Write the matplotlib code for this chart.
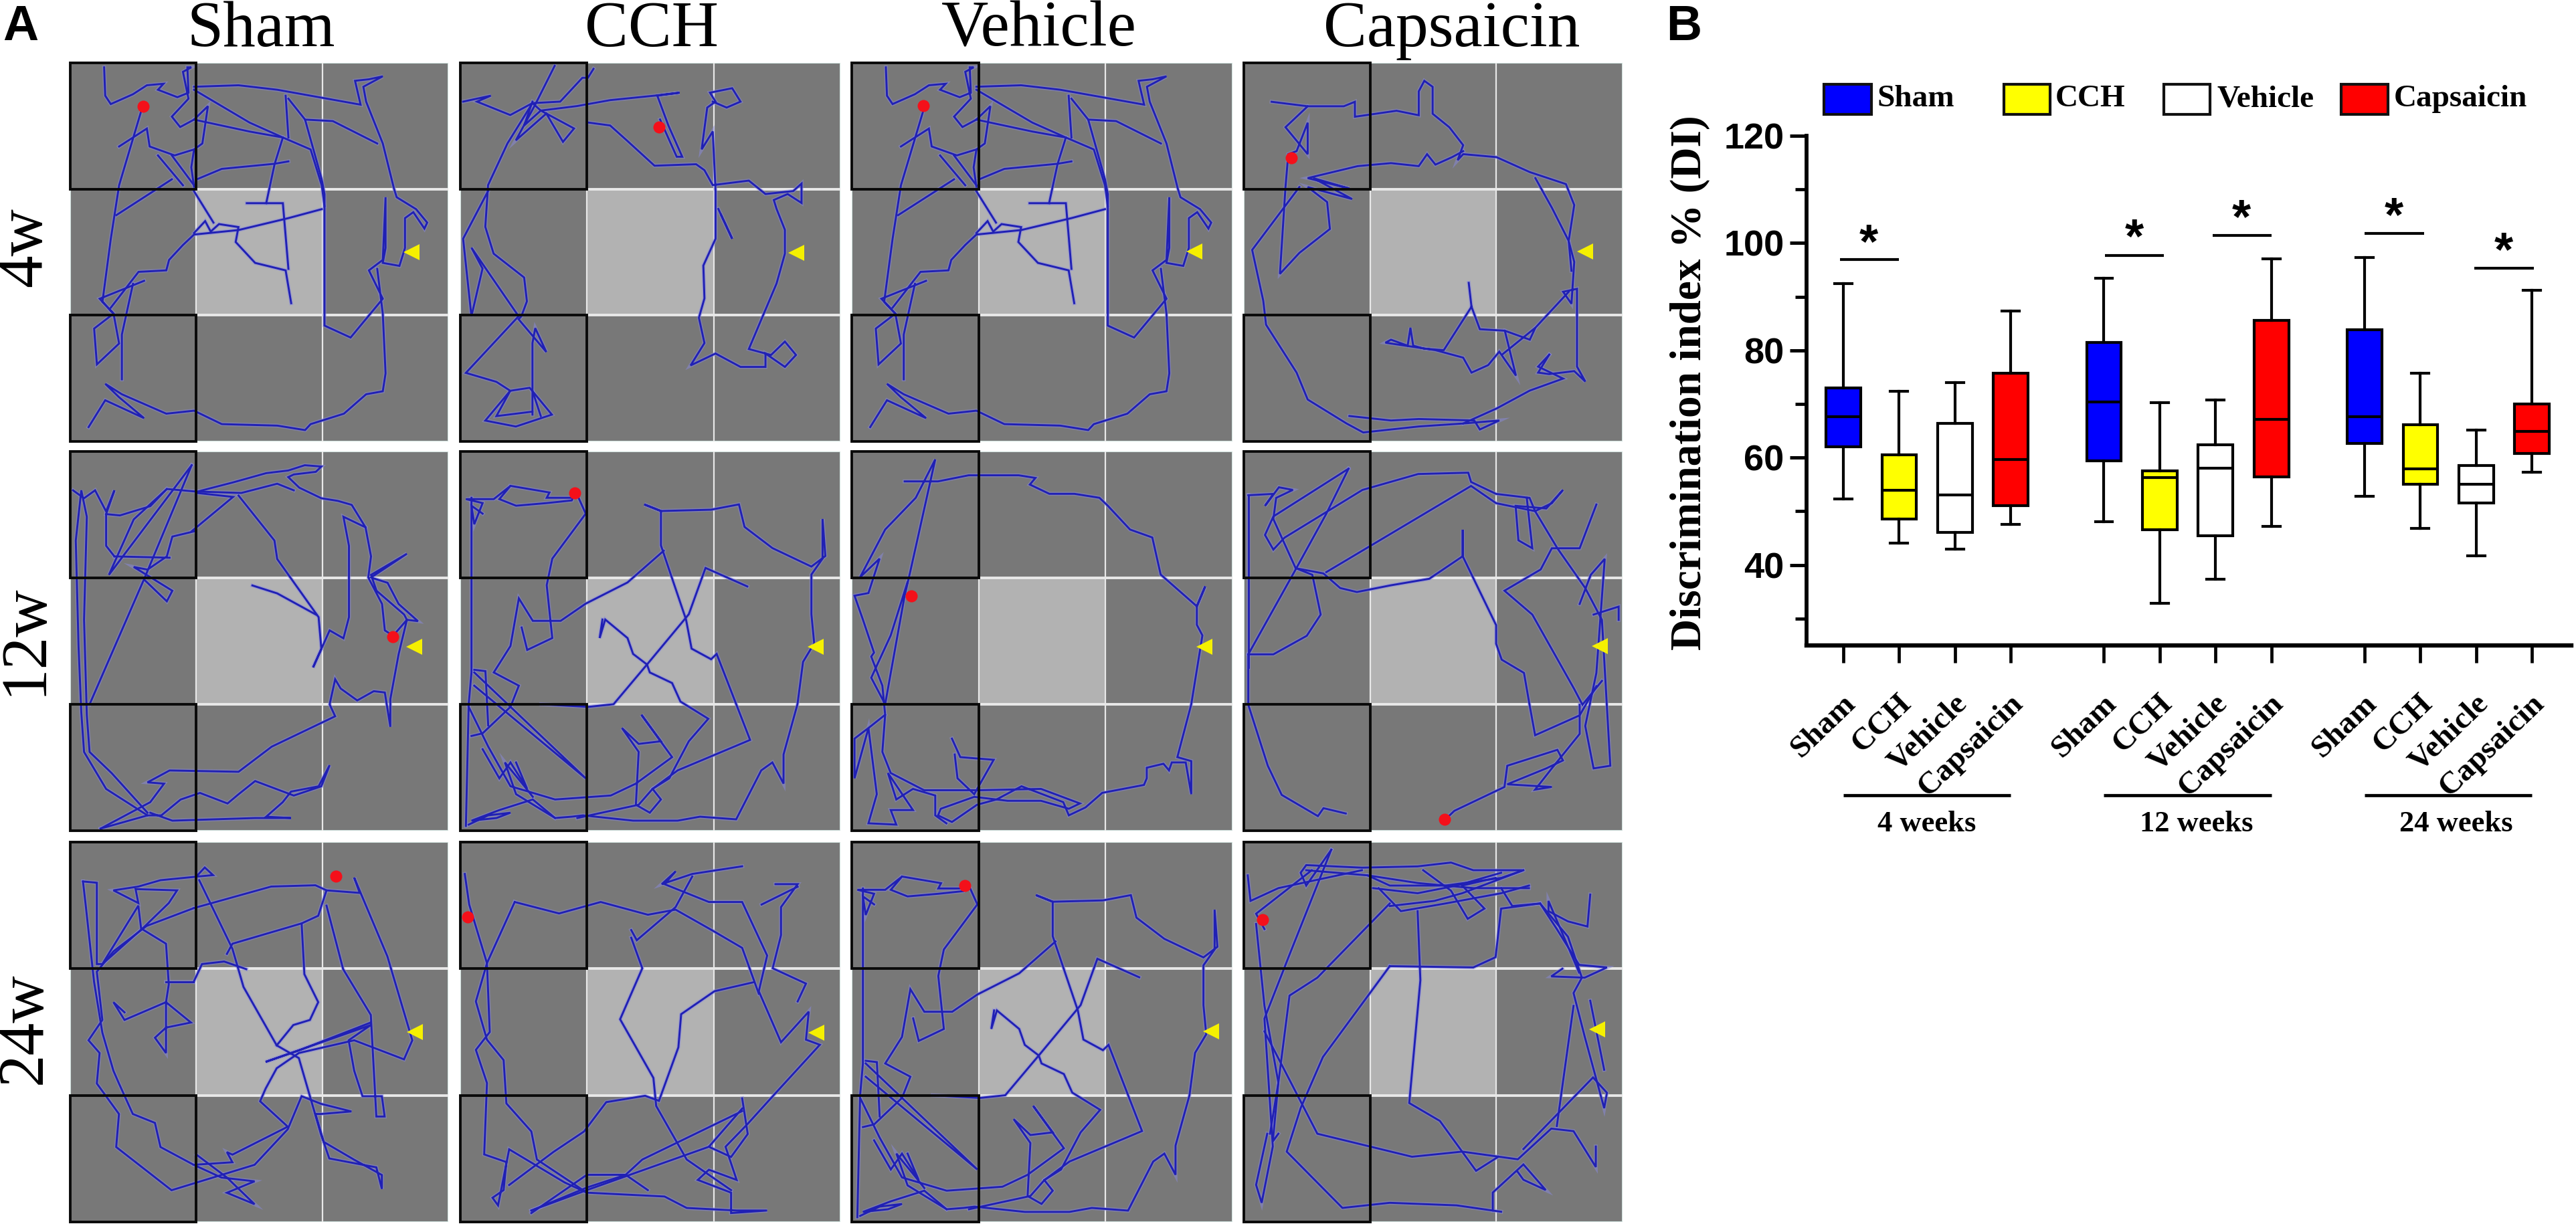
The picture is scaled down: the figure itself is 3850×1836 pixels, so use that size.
"""Novel-object track grid (A) and discrimination index boxplots (B)."""
import matplotlib

matplotlib.use("Agg")
import matplotlib.pyplot as plt
from matplotlib.patches import Rectangle
from matplotlib.transforms import ScaledTranslation

W, H = 3850, 1836

groups = ["Sham", "CCH", "Vehicle", "Capsaicin"]
weeks = ["4w", "12w", "24w"]
week_groups = ["4 weeks", "12 weeks", "24 weeks"]

# ---- panel B, box statistics (whislo, q1, med, q3, whishi) ----
box_sham = [(52.3, 62.0, 67.6, 73.0, 92.4), (48.1, 59.4, 70.4, 81.5, 93.5), (52.8, 62.6, 67.6, 83.9, 97.3)]
box_cch = [(44.1, 48.6, 53.9, 60.5, 72.4), (32.8, 46.6, 56.3, 57.5, 70.2), (46.8, 55.1, 57.9, 66.2, 75.7)]
box_vehicle = [(42.9, 46.1, 53.0, 66.4, 74.0), (37.3, 45.4, 58.0, 62.4, 70.8), (41.7, 51.5, 55.1, 58.5, 65.2)]
box_capsaicin = [(47.6, 51.0, 59.6, 75.8, 87.3), (47.2, 56.4, 67.2, 85.6, 97.1), (57.3, 60.8, 64.9, 70.0, 91.2)]
box_colors = ["#0000ff", "#ffff00", "#ffffff", "#ff0000"]

group_offsets = [0.0, 4.67, 9.34]
sig_x0 = [-0.06, 4.69, 6.62, 9.34, 11.31]
sig_x1 = [1.00, 5.74, 7.67, 10.41, 12.37]
sig_y = [96.9, 97.7, 101.4, 101.8, 95.3]
star_x = [0.46, 5.22, 7.13, 9.87, 11.83]
star_y = [101.8, 102.8, 106.4, 106.8, 100.3]
week_label_x = [1.49, 6.33, 10.98]

sham_4w = [
    [(188, 225), (190, 320), (200, 348), (240, 315), (265, 285), (295, 280), (285, 300), (320, 325), (340, 310),
     (338, 225), (345, 225), (330, 240), (340, 330), (310, 390), (325, 425), (350, 400), (375, 355), (365, 480),
     (350, 500), (345, 560), (350, 625)],
    [(350, 290), (430, 285), (500, 300), (560, 320), (650, 350), (640, 270), (665, 265), (690, 255), (655, 290),
     (660, 340), (690, 480), (710, 630), (715, 660), (750, 700), (770, 745), (765, 765), (745, 710), (730, 730),
     (730, 830), (720, 890), (690, 880), (695, 830), (695, 660), (690, 870), (665, 905), (690, 1000), (632, 1130),
     (585, 1090), (585, 650), (580, 600), (550, 400), (520, 330)],
    [(680, 900), (690, 1050), (695, 1250), (690, 1310), (660, 1320), (620, 1385), (560, 1420), (550, 1440),
     (500, 1425), (400, 1420), (350, 1375), (300, 1385), (220, 1320), (190, 1285), (215, 1330), (260, 1400),
     (190, 1340), (160, 1430)],
    [(240, 950), (220, 1120), (220, 1270)],
    [(255, 370), (215, 620), (200, 800), (185, 1010), (205, 1050), (170, 1100), (175, 1220), (215, 1150), (205, 1050),
     (180, 1000), (260, 940)],
    [(200, 1030), (250, 910), (300, 905), (305, 870), (330, 820), (350, 785), (430, 770), (520, 730), (580, 700)],
    [(350, 780), (370, 740), (380, 775), (395, 750), (430, 760), (425, 810), (460, 880), (515, 905), (525, 1015)],
    [(445, 680), (510, 680), (520, 900)],
    [(480, 680), (495, 550), (510, 460)],
    [(355, 600), (400, 565), (495, 548), (520, 540)],
    [(350, 640), (385, 745)],
    [(350, 300), (450, 410), (510, 460)],
    [(350, 400), (450, 440), (510, 460), (560, 500), (580, 620), (585, 690)],
    [(515, 320), (520, 460)],
    [(550, 400), (600, 405), (680, 480)],
    [(215, 490), (265, 430), (270, 490), (315, 520), (350, 500)],
    [(285, 520), (330, 620)],
    [(310, 520), (350, 620)],
    [(210, 720), (310, 600)],
]
cch_4w = [
    [(1000, 220), (965, 350), (930, 470), (985, 380), (1015, 475), (1035, 430), (975, 370), (945, 420), (960, 340)],
    [(1070, 230), (1060, 260), (1050, 260), (1010, 340), (960, 345)],
    [(835, 340), (885, 320), (860, 340), (920, 385), (960, 345), (975, 370), (1040, 355), (1100, 335), (1180, 320),
     (1225, 310), (1185, 320), (1205, 420), (1230, 525), (1220, 525), (1190, 400)],
    [(1060, 410), (1100, 420), (1130, 470), (1180, 555), (1255, 550), (1270, 570), (1285, 620), (1350, 605),
     (1380, 650), (1430, 640), (1445, 615), (1445, 680), (1420, 650), (1395, 670), (1400, 700), (1415, 770),
     (1415, 850), (1400, 950), (1350, 1170), (1390, 1190), (1415, 1145), (1435, 1190), (1415, 1230), (1380, 1185),
     (1380, 1230), (1335, 1230), (1290, 1185), (1245, 1225), (1270, 1150), (1260, 1065), (1270, 1000), (1268, 890),
     (1290, 800), (1290, 640), (1285, 440), (1265, 500), (1275, 360), (1290, 340), (1280, 310), (1320, 295),
     (1335, 340), (1310, 360), (1285, 340)],
    [(1295, 700), (1320, 800), (1300, 720)],
    [(960, 345), (915, 480), (880, 620), (875, 760), (890, 850), (945, 930), (950, 1010), (940, 1060), (935, 1070),
     (985, 1180), (965, 1100), (960, 1150), (960, 1390)],
    [(880, 640), (835, 800), (850, 1060), (870, 900), (850, 830), (935, 1060), (860, 1210), (840, 1250), (895, 1280),
     (920, 1310), (955, 1300), (995, 1390), (930, 1430), (875, 1410), (920, 1310), (895, 1395), (960, 1380)],
    [(960, 1310), (975, 1395)],
]
capsaicin_4w = [
    [(785, 335), (850, 350), (915, 350), (935, 335), (935, 385), (1010, 365), (1050, 380), (1050, 300), (1060, 265),
     (1075, 285), (1075, 375), (1105, 420), (1130, 480), (1120, 530), (1130, 510), (1190, 520), (1250, 570),
     (1315, 610), (1330, 680), (1320, 800), (1330, 870), (1325, 1010), (1310, 970), (1335, 960), (1335, 1220),
     (1350, 1270), (1330, 1235), (1285, 1245), (1265, 1240), (1285, 1180)],
    [(850, 350), (810, 420), (850, 510), (850, 405), (830, 500), (815, 510), (810, 620), (800, 910), (835, 840),
     (890, 760), (885, 670), (850, 620), (930, 660), (860, 590), (925, 625), (850, 590), (940, 550), (1000, 540),
     (1050, 550), (1065, 510), (1080, 545), (1110, 520), (1130, 500)],
    [(835, 620), (750, 830), (770, 1000), (775, 1080), (830, 1240), (850, 1330), (920, 1410), (950, 1440), (1050, 1420),
     (1130, 1410), (1195, 1400), (1160, 1430), (1150, 1400), (1050, 1395), (1000, 1400), (925, 1385)],
    [(1130, 1410), (1190, 1360), (1250, 1300), (1310, 1260), (1265, 1220), (1285, 1180)],
    [(1140, 940), (1145, 1020), (1095, 1165), (1060, 1160), (1040, 1150), (1035, 1090), (1030, 1150), (1000, 1130),
     (990, 1140), (1080, 1165), (1130, 1190), (1145, 1240), (1175, 1215), (1195, 1170), (1225, 1250), (1205, 1100),
     (1160, 1095), (1145, 1020)],
    [(1205, 1100), (1250, 1130), (1260, 1090), (1200, 1180)],
    [(1260, 1090), (1320, 970)],
    [(1260, 590), (1290, 690), (1320, 800), (1325, 900)],
]
sham_12w = [
    [(130, 210), (150, 240), (170, 210), (190, 290), (205, 210), (190, 300), (215, 305), (270, 270), (300, 205),
     (355, 215), (420, 180), (480, 145), (520, 135), (550, 115), (580, 120), (570, 140), (530, 150), (520, 160),
     (540, 200), (580, 240), (610, 250), (635, 265), (660, 350), (670, 460), (665, 540), (690, 640), (695, 740),
     (710, 760), (735, 700), (755, 705), (720, 640), (700, 560), (670, 540), (735, 450), (670, 530), (680, 590),
     (730, 680), (735, 700), (720, 830), (705, 1000), (705, 1105), (695, 975), (675, 970), (645, 1005), (615, 960),
     (605, 925), (595, 1020), (605, 1065), (490, 1180), (430, 1275), (305, 1270), (265, 1315), (295, 1320),
     (270, 1390), (180, 1490)],
    [(270, 1430), (310, 1460), (460, 1450), (525, 1450), (480, 1445), (510, 1390), (525, 1350), (575, 1330), (595, 1250),
     (580, 1330), (530, 1365), (460, 1310), (430, 1360), (410, 1395), (360, 1355), (325, 1380), (290, 1440),
     (265, 1440), (180, 1490)],
    [(265, 1440), (190, 1340), (150, 1200), (145, 1050), (140, 800), (135, 400), (145, 210), (155, 310), (150, 700),
     (155, 1060), (160, 1200), (200, 1280), (265, 1430)],
    [(345, 115), (260, 540), (160, 1020)],
    [(345, 115), (195, 530), (240, 320), (300, 205)],
    [(350, 365), (310, 385), (300, 460), (265, 510), (240, 500), (310, 590), (300, 630), (260, 550)],
    [(205, 460), (305, 465)],
    [(190, 300), (190, 420), (205, 460)],
    [(355, 220), (420, 235), (345, 365)],
    [(430, 230), (495, 400), (500, 470), (575, 690), (580, 810), (565, 880), (595, 740), (620, 770), (630, 690),
     (630, 420), (620, 310), (660, 350)],
    [(455, 570), (500, 600), (570, 680)],
    [(360, 215), (435, 220), (500, 185), (530, 210)],
]
cch_12w = [
    [(1035, 225), (1030, 250), (985, 260), (930, 270), (900, 245), (920, 195), (890, 245), (840, 245), (870, 260),
     (855, 340), (850, 270), (870, 300)],
    [(1030, 240), (985, 240), (990, 220), (920, 195)],
    [(850, 240), (850, 440), (850, 900), (845, 1020), (840, 1480)],
    [(845, 1030), (880, 1180), (920, 1330), (1000, 1380), (1100, 1365), (1145, 1320), (1210, 1220), (1155, 1060),
     (1190, 1160), (1150, 1170), (1120, 1110), (1150, 1200), (1145, 1400), (1170, 1430), (1190, 1380), (1175, 1340),
     (1220, 1270), (1350, 1155), (1290, 830), (1280, 850), (1245, 810), (1235, 700), (1190, 420), (1190, 290),
     (1160, 265), (1190, 290), (1280, 285), (1330, 265), (1340, 350), (1390, 430), (1460, 500), (1485, 460),
     (1480, 320), (1480, 470), (1460, 530), (1460, 680), (1465, 790), (1445, 860), (1435, 1020), (1410, 1210),
     (1410, 1320), (1390, 1240), (1370, 1270), (1325, 1455), (1260, 1445), (1220, 1460), (1140, 1460), (1050, 1440),
     (1030, 1445), (1000, 1450), (930, 1360), (910, 1240), (945, 1330), (960, 1370)],
    [(1040, 1450), (1150, 1400), (1175, 1340)],
    [(1085, 700), (1080, 770), (1090, 700), (1130, 770), (1140, 830), (1165, 870), (1170, 900), (1210, 940),
     (1225, 1010), (1275, 1075), (1240, 1160), (1205, 1300), (1175, 1340)],
    [(1195, 440), (1130, 560), (1055, 640), (1010, 705), (960, 705), (935, 620), (920, 800), (890, 900), (935, 950),
     (920, 1030), (870, 1130), (850, 1140)],
    [(940, 730), (950, 815), (995, 770), (985, 570), (995, 470), (1055, 300), (1040, 230)],
    [(1345, 575), (1270, 505), (1240, 680), (1165, 870), (1105, 1020), (1060, 1030), (975, 1020)],
    [(855, 890), (875, 895), (880, 1100)],
    [(855, 900), (1055, 1300), (855, 950)],
    [(845, 1475), (880, 1440), (920, 1430), (895, 1450), (850, 1460), (900, 1420), (960, 1380), (1000, 1450)],
    [(870, 1190), (900, 1300), (920, 1240), (950, 1340), (930, 1240)],
]
vehicle_12w = [
    [(125, 178), (185, 178), (240, 155), (330, 155), (360, 165), (350, 190), (385, 225), (430, 225), (475, 240),
     (490, 270), (530, 360), (570, 390), (585, 530), (650, 650), (665, 575), (650, 650), (650, 720), (660, 760),
     (640, 1020), (615, 1220), (640, 1235), (640, 1360), (630, 1240), (605, 1240), (600, 1270), (590, 1245),
     (560, 1260), (560, 1300), (555, 1325), (480, 1355), (450, 1410), (420, 1440), (410, 1390), (335, 1330),
     (290, 1380), (255, 1400), (210, 1465), (185, 1440), (190, 1415), (250, 1370), (310, 1385), (370, 1385),
     (420, 1415), (440, 1395), (370, 1340), (260, 1345), (160, 1345), (100, 1280), (85, 1200), (90, 1060), (85, 950),
     (65, 840), (70, 825), (50, 700), (35, 610), (60, 600), (80, 470), (45, 540), (90, 360), (145, 240), (180, 95),
     (135, 520), (125, 610), (90, 1020), (65, 920), (100, 760), (130, 560)],
    [(90, 1060), (60, 1110), (35, 1150), (35, 1300), (60, 1110), (75, 1360), (60, 1470), (110, 1475), (100, 1420),
     (140, 1420), (95, 1280), (110, 1380), (140, 1340), (180, 1365), (180, 1440), (200, 1470)],
    [(210, 1150), (225, 1220), (285, 1230), (250, 1360), (220, 1300), (215, 1210)],
]
capsaicin_12w = [
    [(745, 230), (790, 225), (775, 270), (800, 200), (825, 210), (795, 240), (790, 320), (830, 505), (880, 525),
     (910, 580), (940, 595), (1000, 570), (1070, 545), (1130, 460), (1130, 360), (1130, 460), (1190, 720), (1190, 790),
     (1200, 850), (1240, 900), (1250, 1020), (1260, 1135), (1340, 1060), (1370, 950)],
    [(745, 830), (790, 830), (850, 760), (875, 680), (860, 530), (830, 505)],
    [(925, 130), (790, 310), (775, 380), (790, 435), (810, 390), (950, 210), (1050, 150), (1140, 145), (1145, 180),
     (1190, 225), (1250, 240), (1260, 290), (1290, 260), (1310, 210), (1280, 280), (1225, 270), (1230, 400), (1255, 430),
     (1245, 240)],
    [(925, 130), (885, 300), (830, 510), (745, 830)],
    [(885, 520), (1145, 195), (1190, 260), (1260, 290), (1300, 430), (1350, 580), (1380, 700), (1395, 1250), (1365, 1260),
     (1350, 1100), (1370, 900), (1385, 470), (1360, 530), (1340, 640)],
    [(1370, 265), (1340, 430), (1290, 430), (1270, 510), (1205, 590), (1255, 680), (1330, 960), (1345, 1020), (1380, 930)],
    [(745, 830), (745, 1020), (780, 1250), (805, 1360), (870, 1440), (880, 1410), (920, 1430)],
    [(1100, 1450), (1115, 1420), (1205, 1330), (1210, 1250), (1300, 1190), (1310, 1230), (1280, 1260), (1210, 1320),
     (1290, 1330), (1260, 1340), (1290, 1260), (1340, 1130), (1340, 1020)],
    [(1365, 680), (1410, 650), (1410, 700)],
    [(745, 230), (745, 880)],
]
sham_24w = [
    [(355, 185), (370, 150), (385, 180), (360, 185), (290, 200), (250, 225), (205, 240), (250, 290), (245, 235),
     (320, 240), (305, 290), (260, 385), (185, 530), (250, 300), (255, 390), (300, 450), (305, 610), (300, 680),
     (345, 760), (300, 780), (280, 820), (300, 880), (300, 680), (225, 750), (205, 680), (225, 720)],
    [(150, 205), (175, 210), (175, 530), (185, 530)],
    [(350, 310), (265, 380), (205, 480), (175, 560), (185, 750), (160, 830), (180, 880), (175, 1000), (215, 1120),
     (210, 1250), (310, 1420), (460, 1320), (520, 1180), (545, 1050), (580, 1080), (635, 1110), (580, 1120), (570, 1120),
     (585, 1230), (640, 1300), (690, 1360), (690, 1415), (680, 1330), (595, 1295), (580, 1200), (540, 900), (500, 850),
     (440, 620), (420, 470), (360, 200)],
    [(150, 205), (155, 300), (170, 600), (185, 800), (205, 950), (215, 1000), (240, 1120), (280, 1155), (290, 1250),
     (350, 1320), (420, 1310), (410, 1270), (420, 1280), (520, 1170), (470, 1070), (480, 1020), (500, 940), (540, 880),
     (640, 830), (730, 905), (745, 830), (700, 500), (640, 190), (650, 250), (590, 240), (575, 340), (545, 370),
     (550, 570), (575, 680), (560, 750), (530, 770), (500, 850)],
    [(350, 600), (365, 530), (405, 520), (445, 550)],
    [(590, 300), (620, 550), (670, 730), (680, 1130), (695, 1130), (690, 1050), (655, 1050), (640, 950), (630, 830),
     (670, 770), (480, 915), (540, 870), (670, 760)],
    [(590, 240), (570, 220), (490, 225), (350, 310)],
    [(545, 370), (420, 450), (410, 490)],
    [(355, 1280), (410, 1370), (460, 1475), (410, 1430), (460, 1385), (400, 1370), (350, 1320)],
    [(300, 600), (350, 600)],
]
cch_24w = [
    [(840, 180), (848, 300), (880, 530), (885, 800), (860, 870), (880, 1000), (875, 1280), (915, 1310), (910, 1420),
     (890, 1450), (900, 1480), (920, 1260), (1020, 1390), (1060, 1430), (1200, 1445), (1240, 1490), (1330, 1500),
     (1385, 1500), (1320, 1510), (1320, 1430), (1260, 1380), (1280, 1340), (1330, 1380), (1310, 1250), (1350, 1160),
     (1400, 1040), (1480, 850), (1455, 830), (1460, 720), (1410, 840), (1370, 640), (1385, 500), (1340, 290),
     (1280, 290), (1200, 220), (1220, 170), (1195, 220), (1250, 180), (1340, 150)],
    [(930, 290), (1010, 335), (1085, 290), (1170, 340), (1220, 320), (1285, 400), (1340, 470), (1370, 650)],
    [(930, 290), (880, 530), (860, 680), (880, 830), (910, 910), (915, 1080), (960, 1190), (970, 1300), (1060, 1430)],
    [(1140, 400), (1150, 440), (1220, 310), (1250, 190)],
    [(1140, 430), (1160, 550), (1120, 750), (1180, 980), (1185, 1090), (1240, 1300), (1320, 1420)],
    [(1360, 605), (1290, 640), (1230, 730), (1225, 860), (1190, 1070), (1165, 1050), (1095, 1075), (1055, 1190),
     (1000, 1270), (920, 1400)],
    [(960, 1510), (1060, 1360), (1130, 1360), (1170, 1420)],
    [(1340, 1100), (1280, 1250), (1060, 1420), (960, 1500)],
    [(960, 1500), (1060, 1410), (1130, 1360), (1160, 1300), (1340, 1110)],
    [(1400, 220), (1440, 220), (1410, 310), (1410, 420), (1395, 550), (1455, 610), (1440, 680)],
    [(1375, 300), (1440, 230)],
    [(1340, 1060), (1350, 1200), (1320, 1290), (1280, 1250)],
]
capsaicin_24w = [
    [(895, 90), (850, 230), (840, 180), (850, 150), (950, 160), (1050, 155), (1110, 140), (1150, 170), (1240, 170),
     (1200, 200), (1100, 230), (1000, 230), (960, 190), (850, 170)],
    [(745, 190), (750, 290), (800, 240), (950, 170)],
    [(775, 400), (760, 340), (860, 170)],
    [(895, 90), (820, 500), (775, 750), (790, 1250), (770, 1470), (760, 1400), (775, 1250), (780, 1200)],
    [(760, 380), (775, 700), (800, 1000), (790, 1230), (800, 1200)],
    [(980, 240), (1020, 330), (1100, 300), (1200, 260), (1250, 230)],
    [(1000, 300), (870, 590), (820, 660), (800, 1000), (785, 1200)],
    [(1000, 545), (1150, 550), (1190, 510), (1200, 320), (1270, 300), (1300, 400), (1340, 540), (1390, 550), (1350, 590),
     (1290, 585), (1310, 555)],
    [(1000, 545), (880, 900), (840, 1100), (815, 1270), (915, 1490), (1000, 1470), (1120, 1480), (1200, 1505)],
    [(775, 800), (870, 1200), (1040, 1290), (1130, 1270), (1230, 1300), (1290, 1180), (1330, 1190), (1370, 1330),
     (1370, 1250)],
    [(1050, 330), (1055, 600), (1035, 1080), (1090, 1150), (1155, 1345), (1195, 1290)],
    [(1185, 1500), (1185, 1430), (1240, 1320), (1280, 1420), (1240, 1380), (1230, 1350)],
    [(1240, 1260), (1365, 980), (1390, 1040), (1385, 1100), (1350, 820), (1330, 650), (1345, 590), (1320, 430),
     (1270, 300)],
    [(1300, 1170), (1330, 700)],
    [(1360, 680), (1385, 950)],
    [(1360, 265), (1355, 390), (1320, 370), (1285, 330), (1285, 290), (1340, 570)],
    [(1060, 170), (1110, 250), (1140, 360), (1170, 320), (1130, 230), (1190, 200)],
    [(960, 190), (1050, 220), (1150, 240), (1250, 240)],
    [(970, 240), (1050, 260), (1120, 230), (1200, 180)],
    [(1000, 310), (1080, 290), (1130, 260), (1240, 170)],
    [(1200, 240), (1220, 310), (1270, 300)],
]

# rows of 4, same order as `groups`; Vehicle 4w / 24w repeat the Sham 4w / CCH 12w tracks
tracks = [
    [sham_4w, cch_4w, sham_4w, capsaicin_4w],
    [sham_12w, cch_12w, vehicle_12w, capsaicin_12w],
    [sham_24w, cch_24w, cch_12w, capsaicin_24w],
]
# digitising frames (x0, y0, width, height) of the arena each track was read in
track_frames = [
    [(127, 210, 681, 1268), (830, 210, 685, 1270), (127, 210, 681, 1268), (735, 205, 682, 1265)],
    [(125, 63, 685, 1435), (830, 65, 682, 1433), (30, 65, 684, 1433), (737, 65, 680, 1430)],
    [(127, 50, 683, 1495), (832, 55, 685, 1490), (830, 65, 682, 1433), (738, 60, 680, 1485)],
]
# object/animal markers are read in the frame of their own panel's crop
marker_frames = [
    [(127, 210, 681, 1268), (830, 210, 685, 1270), (28, 205, 686, 1273), (735, 205, 682, 1265)],
    [(125, 63, 685, 1435), (830, 65, 682, 1433), (30, 65, 684, 1433), (737, 65, 680, 1430)],
    [(127, 50, 683, 1495), (832, 55, 685, 1490), (35, 65, 673, 1475), (738, 60, 680, 1485)],
]
red_dots = [
    [(258, 355), (1188, 425), (157, 348), (820, 522)],
    [(709, 765), (1035, 222), (137, 612), (1098, 1452)],
    [(607, 185), (845, 350), (235, 234), (772, 362)],
]
yellow_marks = [
    [(742, 845), (1436, 848), (645, 840), (1350, 835)],
    [(748, 803), (1467, 803), (664, 803), (1376, 800)],
    [(750, 797), (1473, 802), (670, 800), (1372, 793)],
]

panel_x = [(105, 670), (688, 1256), (1273, 1842), (1859, 2425)]
panel_y = [(94, 660), (675, 1242), (1259, 1827)]
title_x = [390, 974, 1553, 2170]
row_label_y = [370, 956, 1537]

SERIF = "Liberation Serif"
SANS = "Liberation Sans"
TRACK = "#2020b4"


def px_axes(fig, x0, y0, x1, y1):
    return fig.add_axes([x0 / W, 1 - y1 / H, (x1 - x0) / W, (y1 - y0) / H])


def to_arena(pt, frame):
    return (pt[0] - frame[0]) / frame[2], (pt[1] - frame[1]) / frame[3]


def draw_arena(ax, strokes, frame, marker_frame, red, yellow):
    ax.set_xlim(0, 1)
    ax.set_ylim(1, 0)
    ax.axis("off")
    ax.add_patch(Rectangle((0, 0), 1, 1, facecolor="#787878", edgecolor="#cfe0dc", lw=1.5, zorder=0))
    ax.add_patch(Rectangle((1 / 3, 1 / 3), 1 / 3, 1 / 3, facecolor="#b2b2b2", edgecolor="none", zorder=1))
    ax.plot([2 / 3, 2 / 3], [0, 1], color="#e8e8e8", lw=1.6, zorder=2)
    ax.plot([1 / 3, 1 / 3], [1 / 3, 2 / 3], color="#e8e8e8", lw=1.6, zorder=2)
    for yy in (1 / 3, 2 / 3):
        ax.plot([1 / 3, 1], [yy, yy], color="#e8e8e8", lw=2.8, zorder=2)
    for stroke in strokes:
        pts = [to_arena(p, frame) for p in stroke]
        xs = [p[0] for p in pts]
        ys = [p[1] for p in pts]
        ax.plot(xs, ys, color="#8a8ae0", lw=4.2, alpha=0.5, solid_joinstyle="miter", zorder=3)
        ax.plot(xs, ys, color=TRACK, lw=2.1, solid_joinstyle="miter", zorder=4)
    for yy in (0, 2 / 3):
        ax.add_patch(Rectangle((0, yy), 1 / 3, 1 / 3, facecolor="none", edgecolor="#0a0a0a", lw=2.8,
                               zorder=5, clip_on=False))
    rx, ry = to_arena(red, marker_frame)
    ax.plot([rx], [ry], "o", color="#f4101a", ms=13, mew=0, zorder=6)
    tx, ty = to_arena(yellow, marker_frame)
    ax.plot([tx], [ty], "<", color="#f5f000", ms=17, mew=0, zorder=6)


def draw_boxes(fig):
    ax = px_axes(fig, 2700, 203, 3843, 965)
    ax.patch.set_alpha(0)
    unit = 83.4
    ax.set_xlim((2700 - 2755) / unit, (3843 - 2755) / unit)
    ax.set_ylim(25, 120)

    series = [box_sham, box_cch, box_vehicle, box_capsaicin]
    positions, stats, colors, labels = [], [], [], []
    for gi, off in enumerate(group_offsets):
        for si, s in enumerate(series):
            lo, q1, med, q3, hi = s[gi]
            stats.append({"whislo": lo, "q1": q1, "med": med, "q3": q3, "whishi": hi, "fliers": []})
            positions.append(off + si)
            colors.append(box_colors[si])
            labels.append(groups[si])
    line = {"color": "black", "linewidth": 3.0}
    res = ax.bxp(stats, positions=positions, widths=0.62, patch_artist=True, showfliers=False,
                 capwidths=0.31, boxprops={"edgecolor": "black", "linewidth": 3.0},
                 whiskerprops=line, capprops=line, medianprops=line, manage_ticks=False)
    for patch, c in zip(res["boxes"], colors):
        patch.set_facecolor(c)

    for side in ("top", "right"):
        ax.spines[side].set_visible(False)
    ax.spines["left"].set_linewidth(4.2)
    ax.spines["bottom"].set_linewidth(4.6)
    ax.set_yticks(range(40, 121, 20))
    ax.set_yticks(range(30, 120, 20), minor=True)
    ax.tick_params(axis="y", which="major", length=18, width=3.6, pad=6)
    ax.tick_params(axis="y", which="minor", length=12, width=3.4)
    for lab in ax.get_yticklabels():
        lab.set_fontfamily(SANS)
        lab.set_fontweight("bold")
        lab.set_fontsize(39)
    ax.set_xticks(positions)
    ax.set_xticklabels(labels, rotation=44, ha="right", va="center", rotation_mode="anchor",
                       fontfamily=SERIF, fontweight="bold", fontsize=34)
    ax.tick_params(axis="x", length=19, width=3.4, pad=39)
    shift = ScaledTranslation(12 / 100, 0, fig.dpi_scale_trans)
    for lab in ax.get_xticklabels():
        lab.set_transform(lab.get_transform() + shift)

    ax.set_ylabel("Discrimination index % (DI)", fontfamily=SERIF, fontweight="bold", fontsize=47)
    ax.yaxis.set_label_coords(-0.126, 0.516)

    for x0, x1, y in zip(sig_x0, sig_x1, sig_y):
        ax.plot([x0, x1], [y, y], color="black", lw=3.0, solid_capstyle="butt")
    for x, y in zip(star_x, star_y):
        ax.annotate("*", (x, y), xytext=(0, -0.50 * 52), textcoords="offset points", ha="center", va="baseline",
                    fontfamily=SANS, fontweight="bold", fontsize=52)

    trans = ax.get_xaxis_transform()
    for off, lx, name in zip(group_offsets, week_label_x, week_groups):
        ax.plot([off, off + 3], [-0.294, -0.294], color="black", lw=3.4, transform=trans, clip_on=False,
                solid_capstyle="butt")
        ax.text(lx, -0.350, name, transform=trans, ha="center", va="center", fontfamily=SERIF, fontweight="bold",
                fontsize=32)

    # legend sits above the axes, hand placed like in the figure
    legend_x = [(2726, 2797), (2995, 3064), (3234, 3303), (3499, 3569)]
    legend_tx = [2805, 3072, 3314, 3578]
    for (x0, x1), tx, c, name in zip(legend_x, legend_tx, box_colors, groups):
        fig.add_artist(Rectangle((x0 / W, 1 - 171 / H), (x1 - x0) / W, 45 / H, transform=fig.transFigure,
                                 facecolor=c, edgecolor="#111111", lw=3.0))
        fig.text(tx / W, 1 - 148 / H, name, ha="left", va="center", fontfamily=SERIF, fontweight="bold", fontsize=34)


def main():
    fig = plt.figure(figsize=(W / 100, H / 100), dpi=100, facecolor="white")

    for ri, (y0, y1) in enumerate(panel_y):
        for ci, (x0, x1) in enumerate(panel_x):
            ax = px_axes(fig, x0, y0, x1, y1)
            draw_arena(ax, tracks[ri][ci], track_frames[ri][ci], marker_frames[ri][ci],
                       red_dots[ri][ci], yellow_marks[ri][ci])

    for name, x in zip(groups, title_x):
        fig.text(x / W, 1 - 69 / H, name, ha="center", va="baseline", fontfamily=SERIF, fontsize=70)
    for name, y in zip(weeks, row_label_y):
        fig.text(38 / W, 1 - y / H, name, rotation=90, ha="center", va="center", fontfamily=SERIF, fontsize=70)

    fig.text(4 / W, 1 - 60 / H, "A", ha="left", va="baseline", fontfamily=SANS, fontweight="bold", fontsize=53)
    fig.text(2490 / W, 1 - 60 / H, "B", ha="left", va="baseline", fontfamily=SANS, fontweight="bold", fontsize=53)

    draw_boxes(fig)
    fig.savefig("out.png", dpi=100, facecolor="white")


if __name__ == "__main__":
    main()
